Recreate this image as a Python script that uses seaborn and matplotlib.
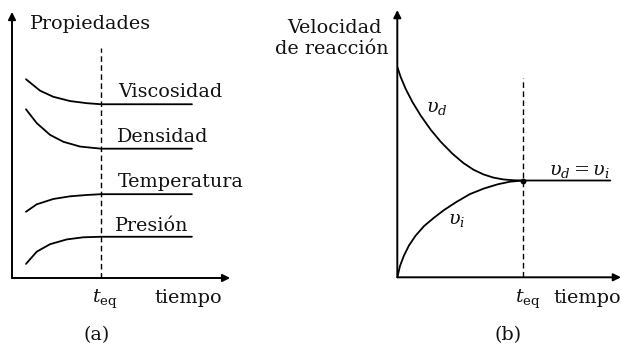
import matplotlib
matplotlib.use("Agg")
import matplotlib.pyplot as plt
import seaborn as sns

sns.set_theme(style="white")
plt.rcParams["font.family"] = ["DejaVu Serif"]
plt.rcParams["mathtext.fontset"] = "dejavuserif"
plt.rcParams["text.color"] = "#111111"

# panel (a): properties vs time (t_eq = 10)
t_eq = 10.0
visc_t = [1.57, 3.15, 4.64, 6.52, 8.39, 10.0, 20.2]
visc_y = [7.47, 7.04, 6.81, 6.65, 6.57, 6.53, 6.53]
dens_t = [1.57, 2.78, 4.27, 5.76, 7.64, 10.0, 20.2]
dens_y = [6.34, 5.82, 5.38, 5.12, 4.94, 4.86, 4.86]
temp_t = [1.57, 2.78, 4.64, 6.52, 8.39, 10.0, 20.2]
temp_y = [2.49, 2.77, 2.97, 3.07, 3.12, 3.15, 3.15]
pres_t = [1.57, 2.78, 4.27, 6.15, 8.01, 10.0, 20.2]
pres_y = [0.53, 0.99, 1.27, 1.45, 1.53, 1.55, 1.55]
labels_a = ["Viscosidad", "Densidad", "Temperatura", "Presión"]
label_a_x = [11.91, 11.8, 11.91, 11.57]
label_a_y = [6.80, 5.11, 3.42, 1.77]

# panel (b): reaction rates vs time (t_eq = 10)
vd_t = [0.0, 0.27, 0.67, 1.19, 1.86, 2.65, 3.44, 4.37, 5.24, 6.03, 6.83,
        7.62, 8.41, 9.21, 10.0, 16.9]
vd_y = [7.91, 7.53, 7.08, 6.60, 6.08, 5.55, 5.10, 4.65, 4.30, 4.05, 3.87,
        3.75, 3.68, 3.65, 3.64, 3.64]
vi_t = [0.0, 0.21, 0.53, 0.93, 1.46, 2.13, 2.91, 3.71, 4.71, 5.77, 6.88,
        7.99, 8.94, 10.0]
vi_y = [0.0, 0.42, 0.82, 1.20, 1.57, 1.93, 2.24, 2.53, 2.84, 3.13, 3.34,
        3.50, 3.595, 3.64]

W, H = 621, 344
fig = plt.figure(figsize=(W / 100, H / 100), dpi=100)
fig.patch.set_facecolor("white")

# axes placed in pixel terms
ax_a = fig.add_axes([12 / W, (H - 278) / H, 228 / W, 273 / H])
ax_b = fig.add_axes([397.3 / W, (H - 277.3) / H, 223.7 / W, 272.3 / H])
ax_a.set_xlim(0, 25.6)
ax_a.set_ylim(0, 10.26)
ax_b.set_xlim(0, 17.75)
ax_b.set_ylim(0, 10.24)

for ax in (ax_a, ax_b):
    for s in ax.spines.values():
        s.set_visible(False)
    ax.set_xticks([])
    ax.set_yticks([])
    ax.patch.set_alpha(0)

arrow = dict(arrowstyle="-|>", color="black", lw=1.4, mutation_scale=11,
             shrinkA=0, shrinkB=0)
fs = 13.8
txt = dict(fontsize=fs, va="baseline", clip_on=False)

# ---- panel (a)
ax_a.annotate("", xy=(0, 10.0), xytext=(0, 0), arrowprops=arrow, annotation_clip=False)
ax_a.annotate("", xy=(24.5, 0), xytext=(0, 0), arrowprops=arrow, annotation_clip=False)
ax_a.plot([t_eq, t_eq], [0, 8.65], color="black", lw=1.0, ls=(0, (4, 2.5)))
for tt, yy in [(visc_t, visc_y), (dens_t, dens_y), (temp_t, temp_y), (pres_t, pres_y)]:
    sns.lineplot(x=tt, y=yy, ax=ax_a, color="black", lw=1.3, sort=False, estimator=None)
for lab, lx, ly in zip(labels_a, label_a_x, label_a_y):
    ax_a.text(lx, ly, lab, ha="left", **txt)
ax_a.text(2.02, 9.35, "Propiedades", ha="left", **txt)
ax_a.text(8.99, -0.94, r"$t_{\mathrm{eq}}$", ha="left", **txt)
ax_a.text(15.96, -0.94, "tiempo", ha="left", **txt)
ax_a.text(9.49, -2.33, "(a)", ha="center", **txt)

# ---- panel (b)
ax_b.annotate("", xy=(0, 10.05), xytext=(0, 0), arrowprops=arrow, annotation_clip=False)
ax_b.annotate("", xy=(17.75, 0), xytext=(0, 0), arrowprops=arrow, annotation_clip=False)
ax_b.plot([t_eq, t_eq], [0, 7.49], color="black", lw=1.0, ls=(0, (4, 2.5)))
sns.lineplot(x=vd_t, y=vd_y, ax=ax_b, color="black", lw=1.3, sort=False, estimator=None)
sns.lineplot(x=vi_t, y=vi_y, ax=ax_b, color="black", lw=1.3, sort=False, estimator=None)
ax_b.plot([vi_t[-1]], [vi_y[-1]], "o", color="black", ms=3.2)
ax_b.text(-8.75, 9.18, "Velocidad", ha="left", **txt)
ax_b.text(-9.71, 8.39, "de reacción", ha="left", **txt)
ax_b.text(3.15, 6.21, r"$\upsilon_d$", ha="center", **txt)
ax_b.text(4.74, 2.0, r"$\upsilon_i$", ha="center", **txt)
ax_b.text(14.46, 3.85, r"$\upsilon_d = \upsilon_i$", ha="center", **txt)
ax_b.text(9.34, -0.97, r"$t_{\mathrm{eq}}$", ha="left", **txt)
ax_b.text(12.36, -0.97, "tiempo", ha="left", **txt)
ax_b.text(8.75, -2.35, "(b)", ha="center", **txt)

fig.savefig("out.png", dpi=100, facecolor="white")
